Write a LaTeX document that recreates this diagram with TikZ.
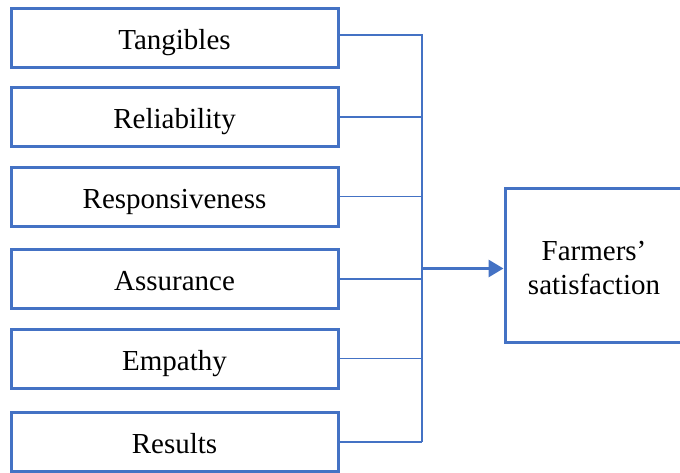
\documentclass[tikz,border=0pt]{standalone}
\usepackage{fontspec}
\setmainfont{Liberation Serif}
\usetikzlibrary{arrows.meta}
\definecolor{boxblue}{HTML}{4472C4}
\tikzset{
  factor/.style={draw=boxblue, line width=3pt, minimum width=327pt, minimum height=59pt, inner sep=0pt, text height=25pt, text depth=2pt, font=\fontsize{29}{34}\selectfont},
  outcome/.style={draw=boxblue, line width=3pt, minimum width=179pt, minimum height=154pt, inner sep=0pt, align=center, font=\fontsize{29}{34}\selectfont},
  link/.style={draw=boxblue, line width=1.5pt},
  mainarrow/.style={draw=boxblue, line width=3pt, -{Triangle[length=15pt,width=17pt]}}
}
\begin{document}
\begin{tikzpicture}[x=1pt,y=-1pt]
\clip (0,0) rectangle (680,472);
\fill[white] (0,0) rectangle (680,472);
\node[factor] (tang) at (174.5,38) {Tangibles};
\node[factor] (reli) at (174.5,117) {Reliability};
\node[factor] (resp) at (174.5,196.5) {Responsiveness};
\node[factor] (assu) at (174.5,279) {Assurance};
\node[factor] (empa) at (174.5,358.5) {Empathy};
\node[factor] (resu) at (174.5,442) {Results};
\node[outcome] (farm) at (594.5,265) {};
\node[font=\fontsize{29}{34}\selectfont, align=center] (farmtext) at (594,268) {Farmers'\\satisfaction};
\coordinate (top) at (422,35);
\coordinate (bot) at (422,442);
\coordinate (mid) at (422,268.5);
\draw[link] ([yshift=3pt]tang.east) -- (top) -- (bot);
\draw[link] (reli.east) -- (reli.east -| top);
\draw[link] (resp.east) -- (resp.east -| top);
\draw[link] (assu.east) -- (assu.east -| top);
\draw[link] (empa.east) -- (empa.east -| top);
\draw[link] (resu.east) -- (bot);
\draw[mainarrow] (mid) -- (mid -| farm.west);
\end{tikzpicture}
\end{document}
